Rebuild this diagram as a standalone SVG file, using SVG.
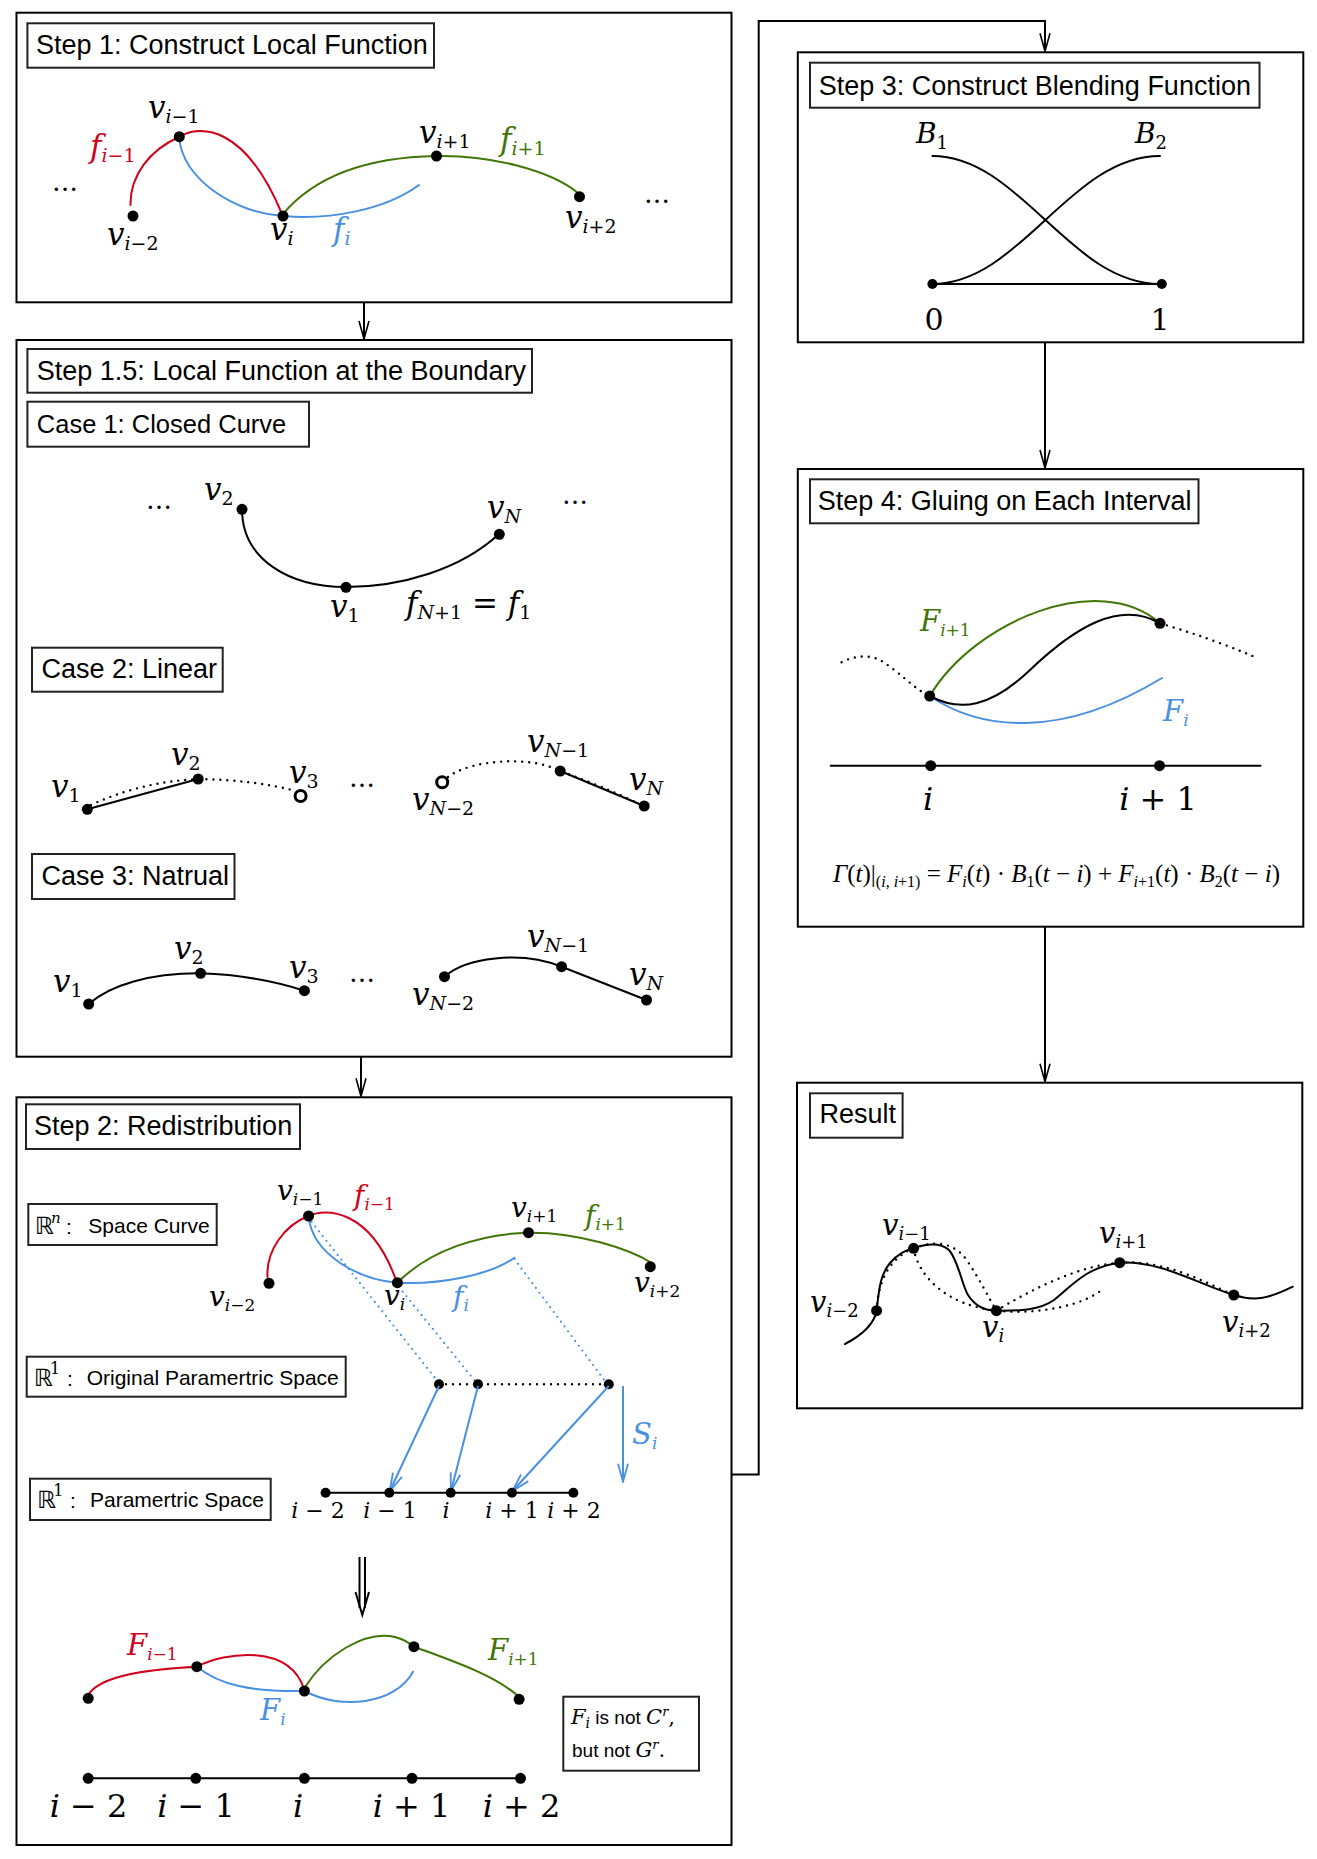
<svg xmlns="http://www.w3.org/2000/svg" width="1317" height="1859" viewBox="0 0 1317 1859">
<defs>
<style>
.box{fill:none;stroke:#000;stroke-width:2}
.tbox{fill:#fff;stroke:#222;stroke-width:2}
.t{font-family:"Liberation Sans",Arial,sans-serif;font-size:27px}
.s{font-family:"Liberation Sans",Arial,sans-serif;font-size:21px}
.m{font-family:"DejaVu Serif",serif}
.lf{font-family:"Liberation Serif","Times New Roman",serif}
.R{font-family:"DejaVu Sans",sans-serif;font-size:24px}
.it{font-style:italic}
.c{fill:none;stroke-width:2;stroke-linecap:round}
.k{stroke:#000}
.r{stroke:#D0021B}
.b{stroke:#4A90E2}
.g{stroke:#417505}
.dot{stroke-dasharray:0 7;stroke-width:2.4}
.bdot{stroke-dasharray:0 6;stroke-width:2.2}
.d{fill:#000}
.oc{fill:#fff;stroke:#000;stroke-width:3}
.conn{fill:none;stroke:#000;stroke-width:2}
.barr{fill:none;stroke:#4A90E2;stroke-width:2}
</style>
<marker id="ah" viewBox="0 0 20 12" refX="19" refY="6" markerWidth="20" markerHeight="12" markerUnits="userSpaceOnUse" orient="auto"><path d="M1,1 L19,6 L1,11" fill="none" stroke="#000" stroke-width="1.6"/></marker>
<marker id="bh" viewBox="0 0 20 12" refX="19" refY="6" markerWidth="20" markerHeight="12" markerUnits="userSpaceOnUse" orient="auto"><path d="M1,1 L19,6 L1,11" fill="none" stroke="#4A90E2" stroke-width="1.8"/></marker>
</defs>
<rect width="1317" height="1859" fill="#fff"/>

<g id="connectors">
<path class="conn" d="M364,302.3 V339" marker-end="url(#ah)"/>
<path class="conn" d="M361,1056.7 V1096.3" marker-end="url(#ah)"/>
<path class="conn" d="M731.5,1474.6 H758.7 V21 H1045 V51.3" marker-end="url(#ah)"/>
<path class="conn" d="M1045,342.3 V468" marker-end="url(#ah)"/>
<path class="conn" d="M1045,926.7 V1081.7" marker-end="url(#ah)"/>
</g>

<g id="step1">
<rect class="box" x="16.5" y="12.7" width="715" height="289.6"/>
<rect class="tbox" x="27.4" y="23.3" width="406.6" height="44.4"/>
<text class="t" x="36" y="54">Step 1: Construct Local Function</text>
<path class="c r" d="M130.5,205 C130,175 150,150 179,137 C200,124 245,125 282,214"/>
<path class="c b" d="M179,137 C183,180 235,213 283,216 C330,220 385,210 419,185"/>
<path class="c g" d="M283,214 C320,170 380,157 436.5,156 C490,155 550,170 578,193"/>
<circle class="d" cx="133" cy="216" r="5.5"/>
<circle class="d" cx="179.3" cy="136.7" r="5.5"/>
<circle class="d" cx="283" cy="216" r="5.5"/>
<circle class="d" cx="436.5" cy="156" r="5.5"/>
<circle class="d" cx="579.5" cy="196.7" r="5.5"/>
<text class="m" font-size="26" x="52" y="191">…</text>
<text class="m" font-size="26" x="644" y="203">…</text>
<text class="m" font-size="31" x="148" y="118"><tspan class="it">v</tspan><tspan font-size="19" dy="5"><tspan class="it">i</tspan>−1</tspan></text>
<text class="m" font-size="31" x="90" y="157" fill="#D0021B"><tspan class="it">f</tspan><tspan font-size="19" dy="5"><tspan class="it">i</tspan>−1</tspan></text>
<text class="m" font-size="31" x="107" y="245"><tspan class="it">v</tspan><tspan font-size="19" dy="5"><tspan class="it">i</tspan>−2</tspan></text>
<text class="m" font-size="31" x="270" y="240"><tspan class="it">v</tspan><tspan class="it" font-size="19" dy="5">i</tspan></text>
<text class="m" font-size="31" x="333" y="240" fill="#4A90E2"><tspan class="it">f</tspan><tspan class="it" font-size="19" dy="5">i</tspan></text>
<text class="m" font-size="31" x="419" y="143"><tspan class="it">v</tspan><tspan font-size="19" dy="5"><tspan class="it">i</tspan>+1</tspan></text>
<text class="m" font-size="31" x="500" y="150" fill="#417505"><tspan class="it">f</tspan><tspan font-size="19" dy="5"><tspan class="it">i</tspan>+1</tspan></text>
<text class="m" font-size="31" x="565" y="228"><tspan class="it">v</tspan><tspan font-size="19" dy="5"><tspan class="it">i</tspan>+2</tspan></text>
</g>

<g id="step1_5">
<rect class="box" x="16.5" y="340" width="715" height="716.7"/>
<rect class="tbox" x="27.4" y="349" width="504.6" height="43.7"/>
<text class="t" x="36.8" y="380">Step 1.5: Local Function at the Boundary</text>
<rect class="tbox" x="27.4" y="401.7" width="281.6" height="45"/>
<text class="t" x="36.8" y="433" style="font-size:25.5px">Case 1: Closed Curve</text>
<path class="c k" d="M242,509 C242,560 290,587 346,587 C400,587 460,570 499,534"/>
<circle class="d" cx="242" cy="509.3" r="5.5"/>
<circle class="d" cx="346" cy="587.3" r="5.5"/>
<circle class="d" cx="499.3" cy="534.3" r="5.5"/>
<text class="m" font-size="26" x="146" y="509">…</text>
<text class="m" font-size="26" x="562" y="504">…</text>
<text class="m" font-size="31" x="204" y="500"><tspan class="it">v</tspan><tspan font-size="19" dy="5">2</tspan></text>
<text class="m" font-size="31" x="487" y="518"><tspan class="it">v</tspan><tspan class="it" font-size="19" dy="5">N</tspan></text>
<text class="m" font-size="31" x="330" y="617"><tspan class="it">v</tspan><tspan font-size="19" dy="5">1</tspan></text>
<text class="m" font-size="31" x="406" y="614"><tspan class="it">f</tspan><tspan font-size="19" dy="5"><tspan class="it">N</tspan>+1</tspan><tspan dy="-5"> = </tspan><tspan class="it">f</tspan><tspan font-size="19" dy="5">1</tspan></text>

<rect class="tbox" x="32" y="647.7" width="190.7" height="44"/>
<text class="t" x="41.5" y="678">Case 2: Linear</text>
<path class="c k" d="M87.3,809.3 L198.2,779"/>
<path class="c k dot" d="M91,805 Q140,782 198,779 Q255,780 296,791"/>
<path class="c k dot" d="M448,777 C470,760 530,755 560,771 Q600,785 644,806"/>
<path class="c k" d="M560.2,771 L644.2,806"/>
<circle class="d" cx="87.3" cy="809.3" r="5.5"/>
<circle class="d" cx="198.2" cy="779" r="5.5"/>
<circle class="oc" cx="300.6" cy="796" r="5.5"/>
<circle class="oc" cx="442.2" cy="782.3" r="5.5"/>
<circle class="d" cx="560.2" cy="771" r="5.5"/>
<circle class="d" cx="644.2" cy="806" r="5.5"/>
<text class="m" font-size="31" x="51" y="797"><tspan class="it">v</tspan><tspan font-size="19" dy="5">1</tspan></text>
<text class="m" font-size="31" x="171" y="765"><tspan class="it">v</tspan><tspan font-size="19" dy="5">2</tspan></text>
<text class="m" font-size="31" x="289" y="783"><tspan class="it">v</tspan><tspan font-size="19" dy="5">3</tspan></text>
<text class="m" font-size="26" x="349" y="787">…</text>
<text class="m" font-size="31" x="412" y="810"><tspan class="it">v</tspan><tspan font-size="19" dy="5"><tspan class="it">N</tspan>−2</tspan></text>
<text class="m" font-size="31" x="527" y="752"><tspan class="it">v</tspan><tspan font-size="19" dy="5"><tspan class="it">N</tspan>−1</tspan></text>
<text class="m" font-size="31" x="629" y="790"><tspan class="it">v</tspan><tspan class="it" font-size="19" dy="5">N</tspan></text>

<rect class="tbox" x="32" y="854" width="202.5" height="45"/>
<text class="t" x="41.5" y="885">Case 3: Natrual</text>
<path class="c k" d="M88.7,1004 C110,985 150,973 200.6,973.3 Q255,975 304.4,990.7"/>
<path class="c k" d="M444.5,976.7 C465,958 520,950 561.6,966.7 L646.5,1000"/>
<circle class="d" cx="88.7" cy="1004" r="5.5"/>
<circle class="d" cx="200.6" cy="973.3" r="5.5"/>
<circle class="d" cx="304.4" cy="990.7" r="5.5"/>
<circle class="d" cx="444.5" cy="976.7" r="5.5"/>
<circle class="d" cx="561.6" cy="966.7" r="5.5"/>
<circle class="d" cx="646.5" cy="1000" r="5.5"/>
<text class="m" font-size="31" x="53" y="992"><tspan class="it">v</tspan><tspan font-size="19" dy="5">1</tspan></text>
<text class="m" font-size="31" x="174" y="959"><tspan class="it">v</tspan><tspan font-size="19" dy="5">2</tspan></text>
<text class="m" font-size="31" x="289" y="978"><tspan class="it">v</tspan><tspan font-size="19" dy="5">3</tspan></text>
<text class="m" font-size="26" x="349" y="982">…</text>
<text class="m" font-size="31" x="412" y="1005"><tspan class="it">v</tspan><tspan font-size="19" dy="5"><tspan class="it">N</tspan>−2</tspan></text>
<text class="m" font-size="31" x="527" y="947"><tspan class="it">v</tspan><tspan font-size="19" dy="5"><tspan class="it">N</tspan>−1</tspan></text>
<text class="m" font-size="31" x="629" y="985"><tspan class="it">v</tspan><tspan class="it" font-size="19" dy="5">N</tspan></text>
</g>

<g id="step2">
<rect class="box" x="16.5" y="1097.3" width="715" height="747.7"/>
<rect class="tbox" x="26" y="1104.3" width="274" height="44.7"/>
<text class="t" x="34" y="1135">Step 2: Redistribution</text>

<rect class="tbox" x="28.3" y="1204" width="188.4" height="41"/>
<text class="R" x="35" y="1234">ℝ</text>
<text class="m it" font-size="15" x="51" y="1223">n</text>
<text class="s" x="66" y="1234">:</text>
<text class="s" x="88.3" y="1233">Space Curve</text>

<rect class="tbox" x="26.7" y="1356.7" width="319" height="40"/>
<text class="R" x="34" y="1386">ℝ</text>
<text class="m" font-size="16" x="50" y="1374">1</text>
<text class="s" x="67" y="1386">:</text>
<text class="s" x="86.7" y="1385">Original Paramertric Space</text>

<rect class="tbox" x="30" y="1478.7" width="240.7" height="41.3"/>
<text class="R" x="37.3" y="1508">ℝ</text>
<text class="m" font-size="16" x="53.3" y="1496">1</text>
<text class="s" x="70" y="1508">:</text>
<text class="s" x="90" y="1507">Paramertric Space</text>

<path class="c r" d="M267.5,1277 C266,1250 285,1225 308.6,1216 C325,1208 370,1208 396,1280"/>
<path class="c b" d="M308.6,1216 C312,1255 360,1280 397.4,1282.7 C440,1285 490,1275 514.4,1257.7"/>
<path class="c g" d="M397.4,1282.7 C430,1250 480,1234 528.5,1232.7 C580,1232 630,1250 650,1262"/>
<path class="c b bdot" d="M311.5,1222 L439,1383 M398.8,1287 L476.6,1383 M514.4,1259 L606.4,1383"/>
<path class="c k dot" d="M439,1384.3 H608.8"/>
<circle class="d" cx="269" cy="1283.3" r="5.5"/>
<circle class="d" cx="308.6" cy="1216" r="5.5"/>
<circle class="d" cx="397.4" cy="1282.7" r="5.5"/>
<circle class="d" cx="528.5" cy="1232.7" r="5.5"/>
<circle class="d" cx="650.3" cy="1266.7" r="5.5"/>
<circle class="d" cx="439" cy="1384.3" r="5"/>
<circle class="d" cx="478" cy="1384.3" r="5"/>
<circle class="d" cx="608.8" cy="1384.3" r="5"/>
<path class="barr" d="M439,1386 L389.8,1491" marker-end="url(#bh)"/>
<path class="barr" d="M478,1386 L451,1491" marker-end="url(#bh)"/>
<path class="barr" d="M608.8,1386 L512.5,1491" marker-end="url(#bh)"/>
<path class="barr" d="M623,1386 L623,1481.7" marker-end="url(#bh)"/>
<text class="m" font-size="29" x="632" y="1444" fill="#4A90E2"><tspan class="it">S</tspan><tspan class="it" font-size="17" dy="5">i</tspan></text>
<path class="c k" d="M325.6,1492.7 H573.4" stroke-width="2.5"/>
<circle class="d" cx="325.6" cy="1492.7" r="5"/>
<circle class="d" cx="389.3" cy="1492.7" r="5"/>
<circle class="d" cx="450.7" cy="1492.7" r="5"/>
<circle class="d" cx="512" cy="1492.7" r="5"/>
<circle class="d" cx="573.4" cy="1492.7" r="5"/>
<g class="m" font-size="22" text-anchor="middle">
<text x="318" y="1518"><tspan class="it">i</tspan> − 2</text>
<text x="390" y="1518"><tspan class="it">i</tspan> − 1</text>
<text x="446" y="1518" class="it">i</text>
<text x="512" y="1518"><tspan class="it">i</tspan> + 1</text>
<text x="574" y="1518"><tspan class="it">i</tspan> + 2</text>
</g>
<text class="m" font-size="28" x="277" y="1200"><tspan class="it">v</tspan><tspan font-size="17" dy="5"><tspan class="it">i</tspan>−1</tspan></text>
<text class="m" font-size="28" x="354" y="1205" fill="#D0021B"><tspan class="it">f</tspan><tspan font-size="17" dy="5"><tspan class="it">i</tspan>−1</tspan></text>
<text class="m" font-size="28" x="511" y="1217"><tspan class="it">v</tspan><tspan font-size="17" dy="5"><tspan class="it">i</tspan>+1</tspan></text>
<text class="m" font-size="28" x="585" y="1225" fill="#417505"><tspan class="it">f</tspan><tspan font-size="17" dy="5"><tspan class="it">i</tspan>+1</tspan></text>
<text class="m" font-size="28" x="209" y="1306"><tspan class="it">v</tspan><tspan font-size="17" dy="5"><tspan class="it">i</tspan>−2</tspan></text>
<text class="m" font-size="28" x="384" y="1305"><tspan class="it">v</tspan><tspan class="it" font-size="17" dy="5">i</tspan></text>
<text class="m" font-size="28" x="453" y="1306" fill="#4A90E2"><tspan class="it">f</tspan><tspan class="it" font-size="17" dy="5">i</tspan></text>
<text class="m" font-size="28" x="634" y="1292"><tspan class="it">v</tspan><tspan font-size="17" dy="5"><tspan class="it">i</tspan>+2</tspan></text>

<path class="conn" d="M359.5,1557 V1608 M365,1557 V1608" stroke-width="1.8"/>
<path class="conn" d="M355.5,1592 L362.3,1615 L369,1592" stroke-width="1.8"/>

<path class="c r" d="M88.2,1695 C100,1675 150,1669 196.8,1666.7 C225,1652 290,1643 304.4,1690"/>
<path class="c b" d="M196.8,1666.7 C220,1685 250,1692 304.4,1691 C340,1710 395,1705 413,1671.7"/>
<path class="c g" d="M304.4,1688 C325,1655 365,1630 395,1637 Q406,1640 413.9,1646.7 C450,1660 495,1675 519.1,1697"/>
<circle class="d" cx="88.2" cy="1698.3" r="5.5"/>
<circle class="d" cx="196.8" cy="1666.7" r="5.5"/>
<circle class="d" cx="304.4" cy="1691" r="5.5"/>
<circle class="d" cx="413.9" cy="1646.7" r="5.5"/>
<circle class="d" cx="519.1" cy="1699.3" r="5.5"/>
<text class="m" font-size="29" x="127" y="1655" fill="#D0021B"><tspan class="it">F</tspan><tspan font-size="17" dy="5"><tspan class="it">i</tspan>−1</tspan></text>
<text class="m" font-size="29" x="260" y="1720" fill="#4A90E2"><tspan class="it">F</tspan><tspan class="it" font-size="17" dy="5">i</tspan></text>
<text class="m" font-size="29" x="488" y="1660" fill="#417505"><tspan class="it">F</tspan><tspan font-size="17" dy="5"><tspan class="it">i</tspan>+1</tspan></text>

<rect class="tbox" x="563.3" y="1696.7" width="135.7" height="74"/>
<text x="571" y="1724"><tspan class="m it" font-size="21">F</tspan><tspan class="m it" font-size="14" dy="4">i</tspan><tspan class="s" dy="-4" style="font-size:19px"> is not </tspan><tspan class="m it" font-size="21">C</tspan><tspan class="m it" font-size="13" dy="-8">r</tspan><tspan class="m" font-size="21" dy="8">,</tspan></text>
<text x="572" y="1757"><tspan class="s" style="font-size:19px">but not </tspan><tspan class="m it" font-size="21">G</tspan><tspan class="m it" font-size="13" dy="-8">r</tspan><tspan class="m" font-size="21" dy="8">.</tspan></text>

<path class="c k" d="M88.2,1778.3 H520.5" stroke-width="2.5"/>
<circle class="d" cx="88.2" cy="1778.3" r="5.5"/>
<circle class="d" cx="195.8" cy="1778.3" r="5.5"/>
<circle class="d" cx="304.4" cy="1778.3" r="5.5"/>
<circle class="d" cx="412" cy="1778.3" r="5.5"/>
<circle class="d" cx="520.5" cy="1778.3" r="5.5"/>
<g class="m" font-size="32" text-anchor="middle">
<text x="88.5" y="1817"><tspan class="it">i</tspan> − 2</text>
<text x="196" y="1817"><tspan class="it">i</tspan> − 1</text>
<text x="298" y="1817" class="it">i</text>
<text x="411.5" y="1817"><tspan class="it">i</tspan> + 1</text>
<text x="521.5" y="1817"><tspan class="it">i</tspan> + 2</text>
</g>
</g>

<g id="step3">
<rect class="box" x="797.8" y="52.3" width="505.5" height="290"/>
<rect class="tbox" x="810" y="62.7" width="449.5" height="45"/>
<text class="t" x="818.7" y="94.5">Step 3: Construct Blending Function</text>
<path class="c k" d="M932.4,156 C1020,156 1070,284 1160,284"/>
<path class="c k" d="M932.4,284 C1020,284 1070,156 1160,156"/>
<path class="c k" d="M932.4,284 H1161.8"/>
<circle class="d" cx="932.4" cy="284" r="5"/>
<circle class="d" cx="1161.8" cy="284" r="5"/>
<text class="m" font-size="28" x="916" y="143"><tspan class="it">B</tspan><tspan font-size="18" dy="6">1</tspan></text>
<text class="m" font-size="28" x="1135" y="143"><tspan class="it">B</tspan><tspan font-size="18" dy="6">2</tspan></text>
<text class="m" font-size="30" x="934" y="330" text-anchor="middle">0</text>
<text class="m" font-size="30" x="1160" y="330" text-anchor="middle">1</text>
</g>

<g id="step4">
<rect class="box" x="797.8" y="469" width="505.5" height="457.7"/>
<rect class="tbox" x="810" y="479.3" width="388.5" height="44"/>
<text class="t" x="817.7" y="510">Step 4: Gluing on Each Interval</text>
<path class="c k dot" d="M841.6,662.3 C855,655 870,655 880,660 C900,672 915,690 929.7,696"/>
<path class="c k dot" d="M1160,623.3 Q1210,638 1252.6,656"/>
<path class="c g" d="M929.7,696 C975,620 1100,570 1160,623.3"/>
<path class="c b" d="M929.7,696 C980,730 1060,740 1162,678"/>
<path class="c k" d="M929.7,696 C960,712 990,708 1030,670 C1075,627 1120,600 1160,623.3"/>
<circle class="d" cx="929.7" cy="696" r="5.5"/>
<circle class="d" cx="1160" cy="623.3" r="5.5"/>
<text class="m" font-size="29" x="920" y="631" fill="#417505"><tspan class="it">F</tspan><tspan font-size="17" dy="5"><tspan class="it">i</tspan>+1</tspan></text>
<text class="m" font-size="29" x="1163" y="721" fill="#4A90E2"><tspan class="it">F</tspan><tspan class="it" font-size="17" dy="5">i</tspan></text>
<path class="c k" d="M830.7,765.7 H1260.5"/>
<circle class="d" cx="930.7" cy="765.7" r="5.5"/>
<circle class="d" cx="1159.5" cy="765.7" r="5.5"/>
<text class="m it" font-size="32" x="928" y="810" text-anchor="middle">i</text>
<text class="m" font-size="32" x="1158" y="810" text-anchor="middle"><tspan class="it">i</tspan> + 1</text>
<text class="lf" font-size="25" x="833" y="882"><tspan class="it">Γ</tspan>(<tspan class="it">t</tspan>)|<tspan font-size="16" dy="5">(<tspan class="it">i</tspan>, <tspan class="it">i</tspan>+1)</tspan><tspan dy="-5"> = </tspan><tspan class="it">F</tspan><tspan class="it" font-size="16" dy="5">i</tspan><tspan dy="-5">(</tspan><tspan class="it">t</tspan>) · <tspan class="it">B</tspan><tspan font-size="16" dy="5">1</tspan><tspan dy="-5">(</tspan><tspan class="it">t</tspan> − <tspan class="it">i</tspan>) + <tspan class="it">F</tspan><tspan font-size="16" dy="5"><tspan class="it">i</tspan>+1</tspan><tspan dy="-5">(</tspan><tspan class="it">t</tspan>) · <tspan class="it">B</tspan><tspan font-size="16" dy="5">2</tspan><tspan dy="-5">(</tspan><tspan class="it">t</tspan> − <tspan class="it">i</tspan>)</text>
</g>

<g id="result">
<rect class="box" x="797" y="1082.7" width="505.3" height="325.6"/>
<rect class="tbox" x="810" y="1093.3" width="92.6" height="44.4"/>
<text class="t" x="819.4" y="1123">Result</text>
<path class="c k dot" d="M876.6,1310.7 C878,1280 890,1258 913.6,1248.3 C935,1240 955,1242 968,1262 C980,1280 990,1300 996.4,1310.7"/>
<path class="c k dot" d="M913.6,1248.3 C918,1275 945,1305 996.4,1310.7 C1040,1315 1085,1305 1103.6,1288.3"/>
<path class="c k dot" d="M996.4,1310.7 C1030,1290 1080,1265 1119.7,1262.7 C1165,1260 1200,1280 1233.8,1295"/>
<path class="c k" d="M845,1344 C862,1335 874,1325 876.6,1310.7 C879,1290 880,1275 890,1263 C898,1254 905,1250 913.6,1248.3 C925,1244 940,1242 949,1250 C958,1260 962,1285 968,1295 C975,1306 985,1310.7 996.4,1310.7 C1020,1311 1040,1310 1054,1300 C1070,1288 1085,1267 1119.7,1262.7 C1160,1260 1200,1285 1233.8,1295 C1255,1302 1270,1298 1292.7,1286.7"/>
<circle class="d" cx="876.6" cy="1310.7" r="5.5"/>
<circle class="d" cx="913.6" cy="1248.3" r="5.5"/>
<circle class="d" cx="996.4" cy="1310.7" r="5.5"/>
<circle class="d" cx="1119.7" cy="1262.7" r="5.5"/>
<circle class="d" cx="1233.8" cy="1295" r="5.5"/>
<text class="m" font-size="29" x="882" y="1235"><tspan class="it">v</tspan><tspan font-size="18" dy="5"><tspan class="it">i</tspan>−1</tspan></text>
<text class="m" font-size="29" x="810" y="1311.7"><tspan class="it">v</tspan><tspan font-size="18" dy="5"><tspan class="it">i</tspan>−2</tspan></text>
<text class="m" font-size="29" x="982" y="1336.7"><tspan class="it">v</tspan><tspan class="it" font-size="18" dy="5">i</tspan></text>
<text class="m" font-size="29" x="1099" y="1243.3"><tspan class="it">v</tspan><tspan font-size="18" dy="5"><tspan class="it">i</tspan>+1</tspan></text>
<text class="m" font-size="29" x="1222" y="1331.7"><tspan class="it">v</tspan><tspan font-size="18" dy="5"><tspan class="it">i</tspan>+2</tspan></text>
</g>
</svg>
